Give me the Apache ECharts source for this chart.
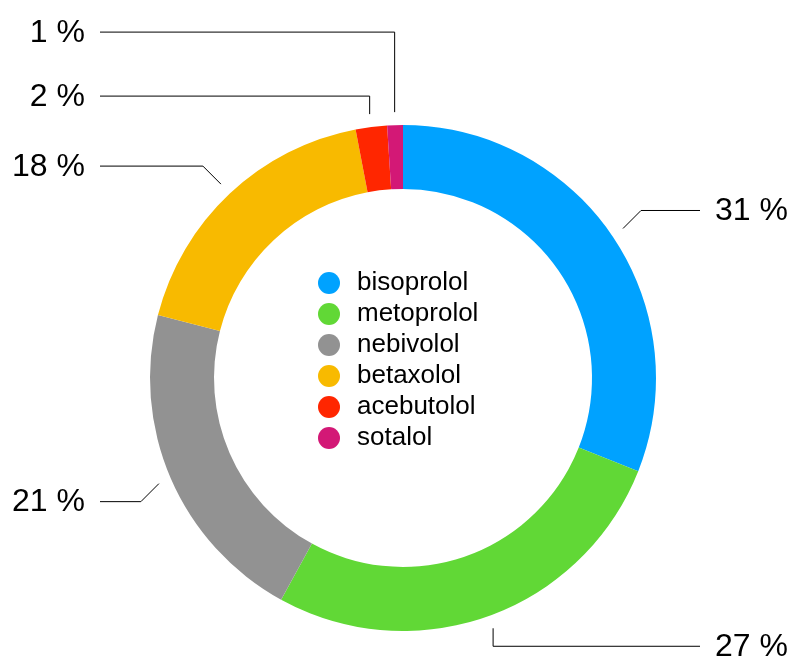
<!DOCTYPE html>
<html>
<head>
<meta charset="utf-8">
<script src="https://cdn.jsdelivr.net/npm/echarts@6/dist/echarts.min.js"></script>
<style>
html,body{margin:0;padding:0;background:#fff;}
#chart{width:796px;height:662px;}
</style>
</head>
<body>
<div id="chart"></div>
<script>
const categories = ['bisoprolol', 'metoprolol', 'nebivolol', 'betaxolol', 'acebutolol', 'sotalol'];
const values = [31, 27, 21, 18, 2, 1];
const colors = ['#00A2FF', '#61D836', '#929292', '#F8BA00', '#FF2600', '#D31876'];

const FONT = '"Liberation Sans", Helvetica, Arial, sans-serif';
const CX = 403, CY = 378, R_IN = 189, R_OUT = 253;
const LINE_GAP = 13, ELBOW = 18, MIN_SPACING = 64;
const LEFT_LINE_END = 100, RIGHT_LINE_END = 700, TEXT_GAP = 15;

// label line geometry derived from the slice angles
const total = values.reduce((a, b) => a + b, 0);
let acc = 0;
const layouts = values.map((v, i) => {
  const mid = (acc + v / 2) / total * 2 * Math.PI;
  acc += v;
  const dx = Math.sin(mid), dy = -Math.cos(mid);
  const r0 = R_OUT + LINE_GAP;
  const sx = CX + dx * r0, sy = CY + dy * r0;
  const ang = Math.atan2(dy, dx);
  const snapped = Math.round(ang / (Math.PI / 4)) * (Math.PI / 4);
  const c = Math.cos(snapped), s = Math.sin(snapped);
  const ox = Math.abs(c) < 0.1 ? 0 : Math.sign(c);
  const oy = Math.abs(s) < 0.1 ? 0 : Math.sign(s);
  return { i, sx, sy, ex: sx + ox * ELBOW, ey: sy + oy * ELBOW, side: dx >= 0 ? 'right' : 'left' };
});
['left', 'right'].forEach(side => {
  const items = layouts.filter(l => l.side === side).sort((a, b) => b.ey - a.ey);
  for (let k = 1; k < items.length; k++) {
    const lim = items[k - 1].ey - MIN_SPACING;
    if (items[k].ey > lim) items[k].ey = lim;
  }
});

const chart = echarts.init(document.getElementById('chart'), null, { renderer: 'canvas' });
chart.setOption({
  animation: false,
  color: colors,
  legend: {
    orient: 'vertical',
    left: 318,
    top: 270,
    padding: 0,
    icon: 'circle',
    itemWidth: 22,
    itemHeight: 22,
    itemGap: 5,
    selectedMode: false,
    data: categories,
    textStyle: { fontFamily: FONT, fontSize: 26, color: '#000', padding: [0, 0, 0, 12] }
  },
  series: [{
    type: 'pie',
    center: [CX, CY],
    radius: [R_IN, R_OUT],
    startAngle: 90,
    clockwise: true,
    avoidLabelOverlap: false,
    silent: true,
    itemStyle: { borderWidth: 0 },
    label: {
      show: true,
      position: 'outside',
      formatter: '{c} %',
      fontFamily: FONT,
      fontSize: 32,
      color: '#000'
    },
    labelLine: {
      show: true,
      length: 20,
      length2: 20,
      smooth: false,
      lineStyle: { color: '#000', width: 1 }
    },
    labelLayout: function (params) {
      const l = layouts[params.dataIndex];
      const endX = l.side === 'left' ? LEFT_LINE_END : RIGHT_LINE_END;
      return {
        x: l.side === 'left' ? endX - TEXT_GAP : endX + TEXT_GAP,
        y: l.ey + 1,
        align: l.side === 'left' ? 'right' : 'left',
        verticalAlign: 'middle',
        labelLinePoints: [[l.sx, l.sy], [l.ex, l.ey], [endX, l.ey]]
      };
    },
    data: categories.map((name, i) => ({ name, value: values[i], itemStyle: { color: colors[i] } }))
  }]
});
</script>
</body>
</html>
